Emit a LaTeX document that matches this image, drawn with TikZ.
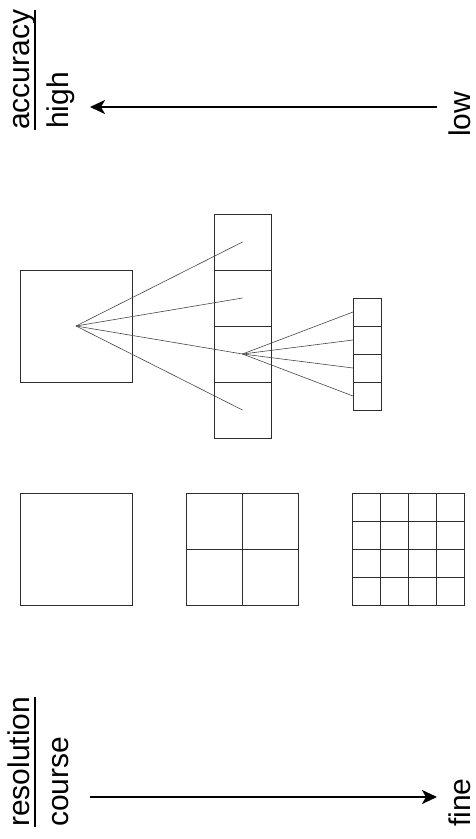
\documentclass[tikz,border=0pt]{standalone}
\usepackage{fontspec}
\setmainfont{Liberation Sans}
\usepackage{tikz}
\usetikzlibrary{positioning, arrows.meta}
\definecolor{CellLine}{RGB}{45,45,45}
\definecolor{LinkGray}{RGB}{70,70,70}

\tikzset{
  cell/.style={draw=CellLine, line width=0.7pt, inner sep=0pt, outer sep=0pt,
    minimum width=#1, minimum height=#1},
  midcell/.style={cell=57pt, minimum height=56pt},
  smallcell/.style={cell=28pt},
  link/.style={draw=LinkGray, line width=0.6pt},
  gridline/.style={draw=CellLine, line width=0.7pt},
  axislabel/.style={rotate=90, anchor=base west, inner sep=0pt,
    font=\fontsize{30}{36}\selectfont},
  labelrule/.style={line width=1.6pt},
  axisarrow/.style={line width=2.2pt, -{Stealth[length=15pt, width=14pt, inset=4pt]}}
}

\begin{document}
\begin{tikzpicture}[x=1pt, y=-1pt]
    \useasboundingbox (0,0) rectangle (475,839);

    % Accuracy axis
    \node[axislabel] (acc) at (30,130) {accuracy};
    \draw[labelrule] ([xshift=5pt]acc.base west) -- ([xshift=5pt]acc.base east);
    \node[axislabel] (high) at (68,129) {high};
    \node[axislabel] (low) at (470,137) {low};
    \coordinate (lowstart) at (437,107);
    \coordinate (highend) at (90,107);
    \draw[axisarrow] (lowstart) -- (highend);

    % Quadtree
    \node[cell=112pt] (root) at (76,326) {};
    \foreach \i/\y in {1/242, 2/298, 3/354, 4/410}
      \node[midcell] (m\i) at (242.5,\y) {};
    \foreach \i/\y in {1/312, 2/340, 3/368, 4/396}
      \node[smallcell] (s\i) at (367,\y) {};
    \foreach \i in {1,...,4}
      \draw[link] (root.center) -- (m\i.center);
    \foreach \i in {1,...,4}
      \draw[link] (m3.center) -- (s\i.west);

    % Grids
    \node[cell=112pt] (g1) at (76,549) {};
    \node[cell=112pt] (g2) at (242,549) {};
    \draw[gridline] (g2.north) -- (g2.south);
    \draw[gridline] (g2.west) -- (g2.east);
    \node[cell=112pt] (g4) at (408,549) {};
    \foreach \k in {1,2,3} {
      \draw[gridline] (352+28*\k,493) -- (352+28*\k,605);
      \draw[gridline] (352,493+28*\k) -- (464,493+28*\k);
    }

    % Resolution axis
    \node[axislabel] (res) at (30,827) {resolution};
    \draw[labelrule] ([xshift=5pt]res.base west) -- ([xshift=5pt]res.base east);
    \node[axislabel] (course) at (68,827) {course};
    \node[axislabel] (fine) at (470,827) {fine};
    \coordinate (coursestart) at (90,797);
    \coordinate (fineend) at (437,797);
    \draw[axisarrow] (coursestart) -- (fineend);
  \end{tikzpicture}
\end{document}
